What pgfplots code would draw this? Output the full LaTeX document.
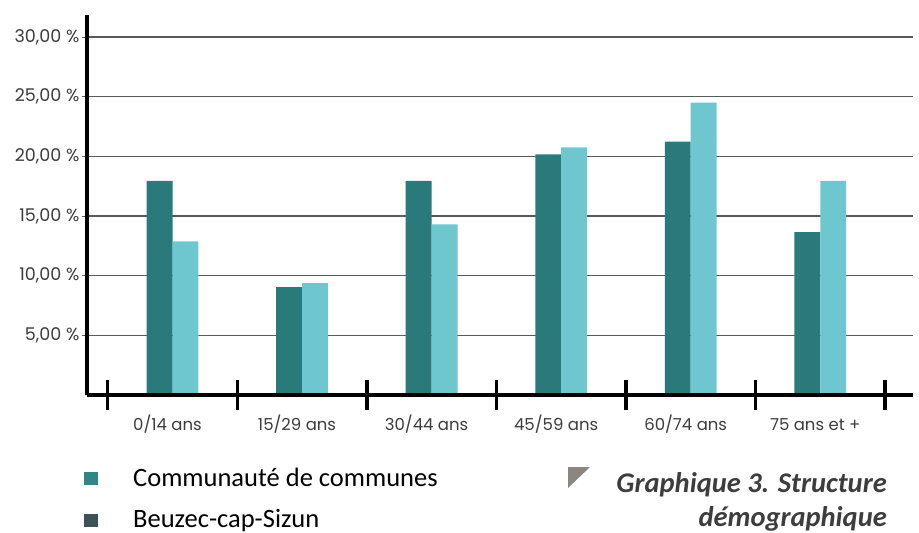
\documentclass[border=0pt]{standalone}
\usepackage{pgfplots}
\pgfplotsset{compat=1.18}
\usepackage{fontspec}
\setmainfont{Carlito}
\newfontfamily\tickfont{Poppins}
\definecolor{darkteal}{HTML}{2B7A7B}
\definecolor{lightteal}{HTML}{6EC7CE}
\definecolor{legA}{HTML}{338585}
\definecolor{legB}{HTML}{3C5256}
\definecolor{gridc}{HTML}{5A5A5A}
\definecolor{tickc}{HTML}{3C3C3C}
\definecolor{tri}{HTML}{8B8680}
\definecolor{titlec}{HTML}{3D3D3D}
\begin{document}
\begin{tikzpicture}
\path[use as bounding box] (0,0) rectangle (919pt,-533pt);
\begin{axis}[
  at={(87pt,-395pt)}, anchor=south west,
  scale only axis, width=826pt, height=380pt,
  xmin=-0.66, xmax=5.716, ymin=0, ymax=31.85,
  axis lines=left,
  axis line style={line width=3.5pt, black, -},
  tick align=center,
  /pgf/number format/assume math mode=true,
  ytick={5,10,15,20,25,30},
  yticklabels={{5,00 \%},{10,00 \%},{15,00 \%},{20,00 \%},{25,00 \%},{30,00 \%}},
  ytick style={line width=1pt, gridc, /pgfplots/major tick length=10pt},
  yticklabel style={font=\tickfont\fontsize{17.5}{19}\selectfont, text=tickc, anchor=east, xshift=-2pt},
  ymajorgrids,
  grid style={line width=1.4pt, gridc},
  xtick={-0.5,0.5,1.5,2.5,3.5,4.5,5.5},
  x tick label as interval,
  xticklabels={0/14 ans,15/29 ans,30/44 ans,45/59 ans,60/74 ans,75 ans et +},
  xtick style={line width=3.5pt, black, /pgfplots/major tick length=30pt},
  xticklabel style={font=\tickfont\fontsize{16.5}{18}\selectfont, text=tickc, anchor=north, text height=11.5pt, text depth=4pt, yshift=-18pt, xshift=-5pt},
]
\addplot[ybar, bar width=25.9pt, bar shift=-12.95pt, fill=darkteal, draw=none]
  coordinates {(0,17.95) (1,9.04) (2,17.95) (3,20.17) (4,21.23) (5,13.66)};
\addplot[ybar, bar width=25.9pt, bar shift=12.95pt, fill=lightteal, draw=none]
  coordinates {(0,12.88) (1,9.38) (2,14.31) (3,20.76) (4,24.5) (5,17.95)};
\draw[line width=3.5pt, black] (rel axis cs:0,0) -- (rel axis cs:1,0);
\end{axis}
% legend
\fill[legA] (84pt,-472pt) rectangle (98pt,-485pt);
\fill[legB] (84pt,-514pt) rectangle (98pt,-527pt);
\node[anchor=base west, inner sep=0pt, font=\fontsize{26.5}{30}\selectfont, text=black] at (133pt,-486pt) {Communauté de communes};
\node[anchor=base west, inner sep=0pt, font=\fontsize{26.5}{30}\selectfont, text=black] at (133pt,-527pt) {Beuzec-cap-Sizun};
% title
\fill[tri] (568pt,-467pt) -- (590pt,-467pt) -- (568pt,-488pt) -- cycle;
\node[anchor=base east, inner sep=0pt, font=\bfseries\itshape\fontsize{28.5}{32}\selectfont, text=titlec] at (887pt,-492pt) {Graphique 3. Structure};
\node[anchor=base east, inner sep=0pt, font=\bfseries\itshape\fontsize{28.5}{32}\selectfont, text=titlec] at (887pt,-526pt) {démographique};
\end{tikzpicture}
\end{document}
